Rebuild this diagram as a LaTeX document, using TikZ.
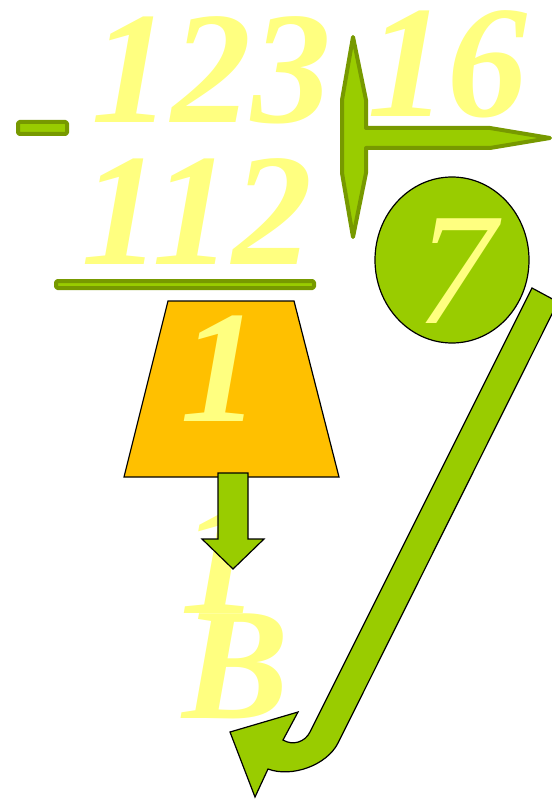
\documentclass[tikz,border=0pt]{standalone}
\usepackage{fontspec}
\setmainfont{Liberation Serif}
\usetikzlibrary{shapes.geometric}
\definecolor{lgreen}{HTML}{99CC00}
\definecolor{dgreen}{HTML}{779900}
\definecolor{ylw}{HTML}{FFFF80}
\definecolor{orng}{HTML}{FFC000}
\begin{document}
\begin{tikzpicture}[x=1pt,y=-1pt,
  digit/.style={text=ylw, font=\fontsize{160}{160}\selectfont\bfseries\itshape, inner sep=0pt, anchor=base},
  thindigit/.style={text=ylw, font=\fontsize{160}{160}\selectfont\itshape, inner sep=0pt, anchor=base},
  greenline/.style={draw=dgreen, fill=lgreen, line width=4pt, line join=round},
  blackline/.style={draw=black, fill=lgreen, line width=1.2pt, line join=miter}]
\useasboundingbox (0,0) rectangle (551,799);
% numbers
\node[digit] (n123) at (211,123) {123};
\node[digit] (n16) at (447,117) {16};
\node[digit] (n112) at (197,265) {112};
% minus and bar
\draw[greenline, rounded corners=1.5pt] (18,122) rectangle (67,134);
\draw[greenline, rounded corners=1.5pt] (56,281) rectangle (314,288);
% T-shaped divider
\draw[greenline] (353,37) -- (366,100) -- (366,128) -- (490,128) -- (550,138) -- (490,148)
  -- (366,148) -- (366,173) -- (353,237) -- (342,173) -- (342,100) -- cycle;
% quotient circle
\node[ellipse, draw=black, line width=1.2pt, fill=lgreen, minimum width=154pt, minimum height=166pt, inner sep=0pt] (circ) at (452,260) {};
\node[thindigit] (n7) at (456,323) {7};
% remainder trapezoid
\draw[fill=orng, draw=black, line width=1.2pt] (168,301) -- (294,301) -- (339,477) -- (124,477) -- cycle;
\node[digit] (q1) at (220,421) {1};
% result texts
\node[digit] (r1) at (220,613) {1};
\node[digit] (rB) at (236,718) {B};
% down arrow
\draw[blackline] (218,473) -- (248,473) -- (248,539) -- (264,539) -- (233,569) -- (202,539) -- (218,539) -- cycle;
% big curved arrow
\draw[blackline] (532,288) -- (558,302) -- (338,743) .. controls (327,765) and (292,778) .. (268,769)
  -- (255,797) -- (230,732) -- (298,712) -- (283,740) .. controls (293,746) and (305,742) .. (310,732) -- cycle;
\end{tikzpicture}
\end{document}
